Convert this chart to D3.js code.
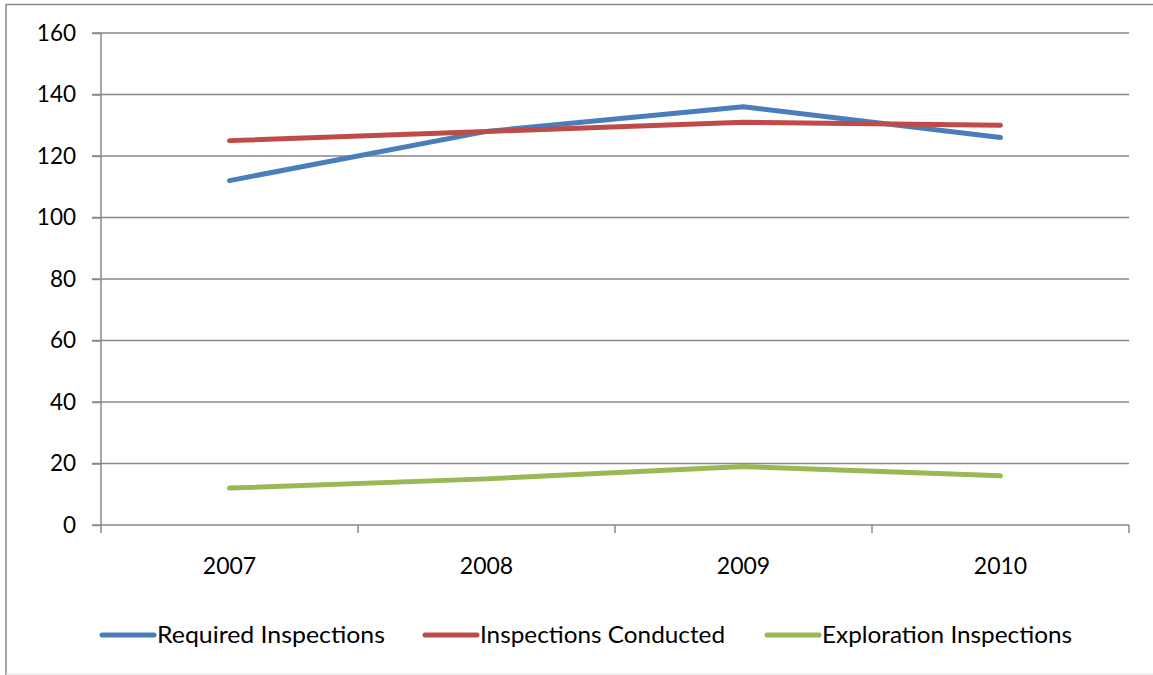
<!DOCTYPE html>
<html><head><meta charset="utf-8">
<script src="https://cdn.jsdelivr.net/npm/d3@7"></script>
<style>html,body{margin:0;padding:0;background:#fff;overflow:hidden}</style>
</head><body>
<svg id="c" width="1153" height="675"></svg>
<script>
const categories = ["2007","2008","2009","2010"];
const requiredInspections = [112,128,136,126];
const inspectionsConducted = [125,128,131,130];
const explorationInspections = [12,15,19,16];
const yTicks = [0,20,40,60,80,100,120,140,160];
const seriesNames = ["Required Inspections","Inspections Conducted","Exploration Inspections"];
const seriesColors = ["#4A7EBB","#BE4B48","#98B954"];

(function(){
const series = [requiredInspections, inspectionsConducted, explorationInspections];
const svg = d3.select("#c");
const font = "Lato, 'Open Sans', sans-serif";
const pLeft = 101, pRight = 1129, pTop = 33, pBottom = 525;

// outer frame
svg.append("line").attr("x1",6).attr("x2",1153).attr("y1",4.5).attr("y2",4.5).attr("stroke","#878787").attr("stroke-width",1.5);
svg.append("line").attr("x1",6).attr("x2",6).attr("y1",4).attr("y2",675).attr("stroke","#878787").attr("stroke-width",1.5);
svg.append("line").attr("x1",6).attr("x2",1153).attr("y1",674).attr("y2",674).attr("stroke","#e0e0e0").attr("stroke-width",1);

const x = d3.scaleBand().domain(categories).range([pLeft,pRight]);
const y = d3.scaleLinear().domain([0,160]).range([pBottom,pTop]);

// gridlines
svg.append("g").selectAll("line").data(yTicks.filter(d=>d>0)).join("line")
  .attr("x1",pLeft-9).attr("x2",pRight).attr("y1",d=>y(d)).attr("y2",d=>y(d))
  .attr("stroke","#888").attr("stroke-width",1.5);

// y axis
const ya = svg.append("g").attr("transform",`translate(${pLeft},0)`)
  .call(d3.axisLeft(y).tickValues(yTicks).tickSize(9).tickPadding(16));
ya.select(".domain").attr("stroke","#888").attr("stroke-width",1.5).attr("d",`M0,${pTop}V${pBottom}`);
ya.selectAll(".tick line").attr("stroke","#888").attr("stroke-width",1.5);
ya.selectAll("text").attr("font-family",font).attr("font-size",22.5).attr("fill","#000");

// x axis
const xa = svg.append("g").attr("transform",`translate(0,${pBottom})`)
  .call(d3.axisBottom(x).tickSize(0).tickPadding(33));
xa.select(".domain").attr("stroke","#888").attr("stroke-width",1.5).attr("d",`M${pLeft-9},0H${pRight}`);
xa.selectAll("text").attr("font-family",font).attr("font-size",23).attr("fill","#000");
const bounds = categories.map(c=>x(c)).concat([x(categories[categories.length-1])+x.bandwidth()]);
svg.append("g").selectAll("line").data(bounds).join("line")
  .attr("x1",d=>d).attr("x2",d=>d).attr("y1",pBottom).attr("y2",pBottom+8)
  .attr("stroke","#888").attr("stroke-width",1.5);

// lines
const line = d3.line().x((d,i)=>x(categories[i])+x.bandwidth()/2).y(d=>y(d));
series.forEach((s,k)=>{
  svg.append("path").datum(s).attr("d",line).attr("fill","none")
    .attr("stroke",seriesColors[k]).attr("stroke-width",5).attr("stroke-linecap","round").attr("stroke-linejoin","round");
});

// legend
const legX = [100,423,765];
const legW = [228,245,250];
const lg = svg.append("g");
seriesNames.forEach((n,k)=>{
  lg.append("line").attr("x1",legX[k]+2).attr("x2",legX[k]+54).attr("y1",635).attr("y2",635)
    .attr("stroke",seriesColors[k]).attr("stroke-width",5).attr("stroke-linecap","round");
  lg.append("text").attr("x",legX[k]+57).attr("y",635).attr("dy","0.35em")
    .attr("font-family",font).attr("font-size",23).attr("fill","#000")
    .attr("textLength",legW[k]).attr("lengthAdjust","spacingAndGlyphs").text(n);
});
})();
</script>
</body></html>
